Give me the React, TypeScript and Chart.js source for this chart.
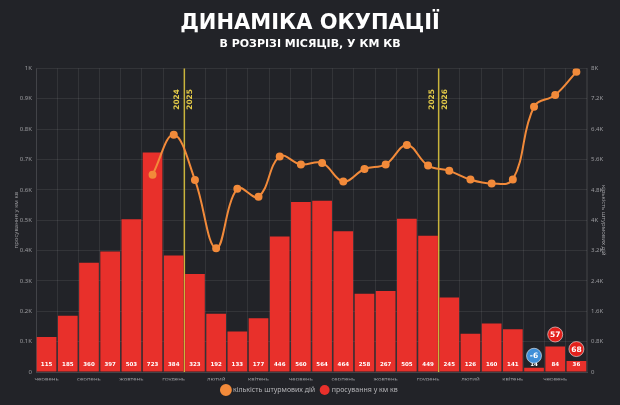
import React, { useEffect, useRef } from "react";
import { Chart, registerables } from "chart.js";

Chart.register(...registerables);

const monthLabels = [
  "червень", "липень", "серпень", "вересень", "жовтень", "листопад", "грудень",
  "січень", "лютий", "березень", "квітень", "травень", "червень", "липень",
  "серпень", "вересень", "жовтень", "листопад", "грудень",
  "січень", "лютий", "березень", "квітень", "травень", "червень", "липень",
];
const advanceKm2 = [115, 185, 360, 397, 503, 723, 384, 323, 192, 133, 177, 446, 560, 564, 464, 258, 267, 505, 449, 245, 126, 160, 141, 14, 84, 36];
const assaultCounts = [null, null, null, null, null, 5200, 6250, 5060, 3260, 4830, 4620, 5680, 5470, 5510, 5020, 5350, 5470, 5980, 5440, 5300, 5070, 4970, 5070, 6990, 7300, 7910];
const leftTickLabels = ["0", "0.1K", "0.2K", "0.3K", "0.4K", "0.5K", "0.6K", "0.7K", "0.8K", "0.9K", "1K"];
const rightTickLabels = ["0", "0.8K", "1.6K", "2.4K", "3.2K", "4K", "4.8K", "5.6K", "6.4K", "7.2K", "8K"];
const yearBreakAfter = [6, 18];
const yearBreakLabels = [["2024", "2025"], ["2025", "2026"]];
const badgeBars = [23, 24, 25];
const badgeTexts = ["-6", "57", "68"];
const badgeColors = ["#3f8fd8", "#e3201b", "#e3201b"];

const TICK_COLOR = "#9a9a9e";
const GRID = "rgba(255,255,255,0.08)";

const overlayPlugin = {
  id: "overlay",
  beforeDatasetsDraw(chart: any) {
    const { ctx, chartArea, scales } = chart;
    const xs = scales.x;
    ctx.save();
    yearBreakAfter.forEach((idx, k) => {
      const lx = (xs.getPixelForValue(idx) + xs.getPixelForValue(idx + 1)) / 2;
      ctx.strokeStyle = "#c9b43c";
      ctx.lineWidth = 1.5;
      ctx.beginPath();
      ctx.moveTo(lx, chartArea.top);
      ctx.lineTo(lx, chartArea.bottom);
      ctx.stroke();
      ctx.fillStyle = "#e2c948";
      ctx.font = "bold 7.5px 'DejaVu Sans'";
      ctx.textAlign = "center";
      ctx.textBaseline = "middle";
      const offs = [-7, 6];
      offs.forEach((dx, j) => {
        ctx.save();
        ctx.translate(lx + dx, chartArea.top + 31);
        ctx.rotate(-Math.PI / 2);
        ctx.fillText(yearBreakLabels[k][j], 0, 0);
        ctx.restore();
      });
    });
    ctx.restore();
  },
  afterDatasetsDraw(chart: any) {
    const { ctx, scales } = chart;
    const ys = scales.y;
    const base = ys.getPixelForValue(0);
    const meta = chart.getDatasetMeta(1);
    ctx.save();
    ctx.fillStyle = "#ffffff";
    ctx.font = "bold 5.5px 'DejaVu Sans'";
    ctx.textAlign = "center";
    ctx.textBaseline = "middle";
    meta.data.forEach((bar: any, i: number) => {
      ctx.fillText(String(advanceKm2[i]), bar.x, base - 7);
    });
    badgeBars.forEach((bi, k) => {
      const bar = meta.data[bi];
      const cy = bar.y - 12;
      ctx.beginPath();
      ctx.arc(bar.x, cy, 7.5, 0, Math.PI * 2);
      ctx.fillStyle = badgeColors[k];
      ctx.fill();
      ctx.lineWidth = 1;
      ctx.strokeStyle = "rgba(255,255,255,0.55)";
      ctx.stroke();
      ctx.fillStyle = "#ffffff";
      ctx.font = "bold 7.5px 'DejaVu Sans'";
      ctx.fillText(badgeTexts[k], bar.x, cy + 0.5);
    });
    ctx.restore();
  },
};

export default function App() {
  const ref = useRef<HTMLCanvasElement | null>(null);
  useEffect(() => {
    document.body.style.margin = "0";
    const chart = new Chart(ref.current as HTMLCanvasElement, {
      type: "bar",
      data: {
        labels: monthLabels,
        datasets: [
          {
            type: "line",
            label: "кількість штурмових дій",
            data: assaultCounts as any,
            yAxisID: "y1",
            borderColor: "#f28a3a",
            backgroundColor: "#f28a3a",
            pointBackgroundColor: "#f28a3a",
            pointBorderColor: "#f28a3a",
            pointRadius: 3,
            borderWidth: 2,
            tension: 0.4,
            order: 0,
          } as any,
          {
            type: "bar",
            label: "просування у км кв",
            data: advanceKm2,
            yAxisID: "y",
            backgroundColor: "#e8302b",
            borderWidth: 0,
            categoryPercentage: 1,
            barPercentage: 0.93,
            order: 1,
          },
        ],
      },
      options: {
        animation: false,
        responsive: true,
        maintainAspectRatio: false,
        layout: { padding: { left: 0, right: 0, top: 0, bottom: 1.5 } },
        plugins: {
          title: {
            display: true,
            text: "ДИНАМІКА ОКУПАЦІЇ",
            color: "#ffffff",
            font: { family: "'DejaVu Sans'", size: 21, weight: "bold" },
            padding: { top: 11, bottom: 1 },
          },
          subtitle: {
            display: true,
            text: "В РОЗРІЗІ МІСЯЦІВ, У КМ КВ",
            color: "#ffffff",
            font: { family: "'DejaVu Sans'", size: 11, weight: "bold" },
            padding: { top: 0, bottom: 18 },
          },
          legend: {
            position: "bottom",
            labels: {
              usePointStyle: true,
              pointStyle: "circle",
              color: "#b5b5b8",
              font: { family: "'Noto Sans'", size: 7 },
              padding: 6,
            },
          },
          tooltip: { enabled: false },
        },
        scales: {
          x: {
            grid: { color: GRID, drawTicks: false, offset: true },
            border: { color: GRID },
            ticks: {
              autoSkip: false,
              maxRotation: 0,
              color: TICK_COLOR,
              font: { family: "'Noto Sans'", size: 6 },
              padding: 4,
              callback: (_v: any, i: number) => (i % 2 === 0 ? monthLabels[i] : ""),
            },
            afterFit: (s: any) => { s.height = 8.5; },
          },
          y: {
            position: "left",
            min: 0,
            max: 1000,
            ticks: {
              stepSize: 100,
              color: TICK_COLOR,
              font: { family: "'Noto Sans'", size: 6 },
              padding: 4,
              callback: (_v: any, i: number) => leftTickLabels[i],
            },
            grid: { color: GRID, drawTicks: false },
            border: { color: GRID },
            title: {
              display: true,
              text: "просування у км кв",
              color: TICK_COLOR,
              font: { family: "'Noto Sans'", size: 6 },
              padding: { top: 13, bottom: 0 },
            },
            afterFit: (s: any) => { s.width = 36; },
          },
          y1: {
            position: "right",
            min: 0,
            max: 8000,
            ticks: {
              stepSize: 800,
              color: TICK_COLOR,
              font: { family: "'Noto Sans'", size: 6 },
              padding: 4,
              callback: (_v: any, i: number) => rightTickLabels[i],
            },
            grid: { drawOnChartArea: false, drawTicks: false },
            border: { color: GRID },
            title: {
              display: true,
              text: "кількість штурмових дій",
              color: TICK_COLOR,
              font: { family: "'Noto Sans'", size: 6 },
              padding: { top: 13, bottom: 0 },
            },
            afterFit: (s: any) => { s.width = 33; },
          },
        },
      } as any,
      plugins: [overlayPlugin],
    });
    return () => chart.destroy();
  }, []);
  return (
    <div style={{ position: "absolute", left: 0, top: 0, width: 620, height: 405, background: "#222328" }}>
      <canvas ref={ref} />
    </div>
  );
}
